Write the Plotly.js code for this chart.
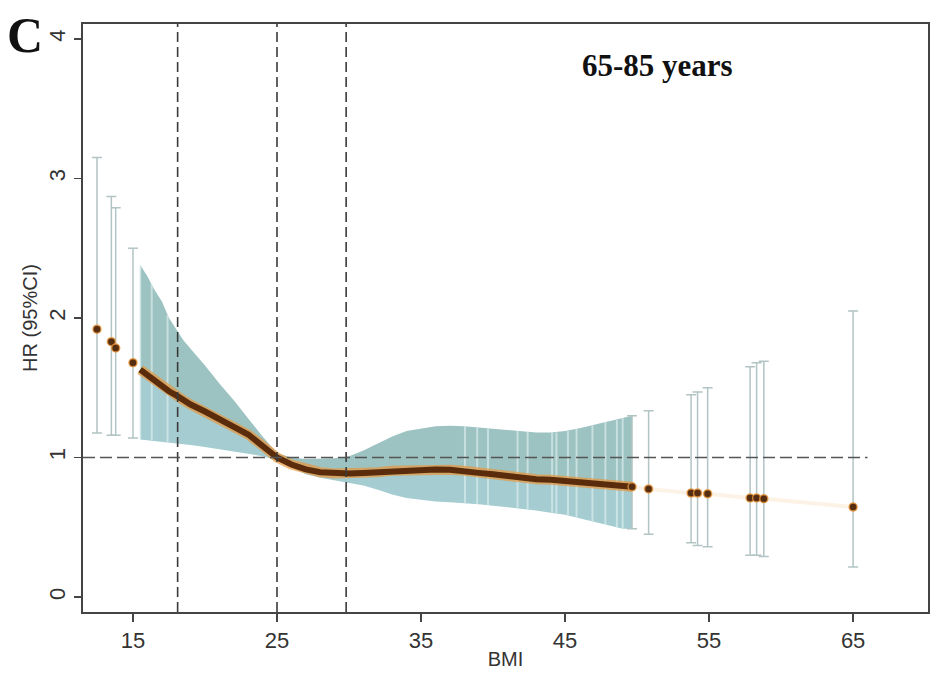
<!DOCTYPE html>
<html><head><meta charset="utf-8">
<script src="https://cdn.plot.ly/plotly-3.0.1.min.js"></script>
<style>html,body{margin:0;padding:0;background:#fff}#chart{width:941px;height:681px}</style>
</head><body><div id="chart"></div>
<script>
// Dense region: BMI, hazard ratio estimate and 95% CI envelope
const bandX   = [15.5, 16, 16.5, 17, 17.5, 18, 18.5, 19, 20, 21, 22, 23, 24, 25, 26, 27, 28, 29, 30, 31, 32, 33, 34, 35, 36, 37, 38, 39, 40, 41, 42, 43, 44, 45, 46, 47, 48, 49, 49.65];
const bandEst = [1.63, 1.59, 1.55, 1.51, 1.475, 1.445, 1.41, 1.38, 1.33, 1.27, 1.22, 1.165, 1.085, 1.0, 0.95, 0.915, 0.895, 0.885, 0.885, 0.89, 0.895, 0.905, 0.91, 0.915, 0.915, 0.912, 0.905, 0.89, 0.88, 0.865, 0.855, 0.845, 0.84, 0.83, 0.82, 0.81, 0.80, 0.795, 0.79];
const bandHi  = [2.38, 2.30, 2.20, 2.12, 2.00, 1.92, 1.84, 1.78, 1.66, 1.53, 1.41, 1.28, 1.15, 1.03, 1.0, 0.99, 0.99, 0.995, 1.01, 1.05, 1.10, 1.15, 1.19, 1.21, 1.225, 1.228, 1.225, 1.215, 1.205, 1.20, 1.19, 1.18, 1.18, 1.19, 1.21, 1.235, 1.26, 1.285, 1.30];
const bandLo  = [1.13, 1.125, 1.12, 1.115, 1.105, 1.10, 1.095, 1.09, 1.075, 1.06, 1.045, 1.03, 1.01, 0.98, 0.93, 0.88, 0.855, 0.835, 0.82, 0.80, 0.77, 0.735, 0.71, 0.695, 0.685, 0.68, 0.675, 0.665, 0.655, 0.645, 0.635, 0.62, 0.605, 0.59, 0.565, 0.54, 0.51, 0.49, 0.49];

// Individual sparse estimates with CI
const ptX   = [12.5, 13.5, 13.8, 15.0, 49.65, 50.8, 53.75, 54.2, 54.9, 57.85, 58.3, 58.8, 65.0];
const ptEst = [1.92, 1.83, 1.785, 1.68, 0.79, 0.775, 0.745, 0.745, 0.74, 0.71, 0.71, 0.705, 0.645];
const ptHi  = [3.15, 2.87, 2.79, 2.50, 1.30, 1.335, 1.45, 1.47, 1.50, 1.65, 1.68, 1.69, 2.05];
const ptLo  = [1.175, 1.16, 1.16, 1.14, 0.49, 0.45, 0.39, 0.37, 0.36, 0.30, 0.30, 0.29, 0.215];

// Lighter individual CI bars visible inside the dense band
const stripeX  = [15.5, 16.3, 17.4, 38.05, 38.9, 39.65, 41.7, 42.4, 44.1, 44.4, 45.2, 45.8, 46.9, 47.8, 48.6, 49.0];
const stripeEst= [1.63, 1.57, 1.49, 0.905, 0.89, 0.88, 0.86, 0.85, 0.84, 0.84, 0.83, 0.82, 0.81, 0.80, 0.795, 0.795];
const stripeHi = [2.38, 2.25, 2.02, 1.225, 1.215, 1.21, 1.195, 1.19, 1.18, 1.18, 1.19, 1.205, 1.23, 1.255, 1.27, 1.285];
const stripeLo = [1.13, 1.125, 1.11, 0.675, 0.665, 0.66, 0.64, 0.63, 0.605, 0.60, 0.585, 0.57, 0.545, 0.515, 0.50, 0.49];

const refX = [18.1, 25, 29.8];
const refY = 1;
const xTicks = [15, 25, 35, 45, 55, 65];
const yTicks = [0, 1, 2, 3, 4];
const panelLabel = 'C';
const panelTitle = '65-85 years';

const sans = '"Liberation Sans Narrow", "Liberation Sans", Arial, sans-serif';
const serif = '"Liberation Serif", "Times New Roman", serif';

const traces = [
  { x: bandX, y: bandHi, mode: 'lines', line: {width: 0, color: 'rgba(0,0,0,0)'}, hoverinfo: 'skip', showlegend: false },
  { x: bandX, y: bandEst, mode: 'lines', line: {width: 0, color: 'rgba(0,0,0,0)'}, fill: 'tonexty', fillcolor: '#9cc3c1', hoverinfo: 'skip', showlegend: false },
  { x: bandX, y: bandLo, mode: 'lines', line: {width: 0, color: 'rgba(0,0,0,0)'}, fill: 'tonexty', fillcolor: '#a4ccd1', hoverinfo: 'skip', showlegend: false },
  { x: stripeX, y: stripeEst, mode: 'markers', marker: {size: 0.1, color: 'rgba(0,0,0,0)'},
    error_y: {type: 'data', symmetric: false,
      array: stripeHi.map((h, i) => h - stripeEst[i]), arrayminus: stripeLo.map((l, i) => stripeEst[i] - l),
      color: 'rgba(228,242,242,0.6)', thickness: 2, width: 0}, hoverinfo: 'skip', showlegend: false },
  { x: ptX, y: ptEst, mode: 'markers', marker: {size: 0.1, color: 'rgba(0,0,0,0)'},
    error_y: {type: 'data', symmetric: false,
      array: ptHi.map((h, i) => h - ptEst[i]), arrayminus: ptLo.map((l, i) => ptEst[i] - l),
      color: '#b3c4c4', thickness: 1.5, width: 5}, hoverinfo: 'skip', showlegend: false },
  { x: ptX.slice(4), y: ptEst.slice(4), mode: 'lines', line: {color: 'rgba(245,190,130,0.2)', width: 4}, hoverinfo: 'skip', showlegend: false },
  { x: bandX, y: bandEst, mode: 'lines', line: {color: 'rgba(232,150,60,0.7)', width: 10}, hoverinfo: 'skip', showlegend: false },
  { x: bandX, y: bandEst, mode: 'lines', line: {color: '#5a2c0b', width: 6}, hoverinfo: 'skip', showlegend: false },
  { x: ptX, y: ptEst, mode: 'markers', marker: {size: 8, color: '#552d10', line: {color: 'rgba(232,150,60,0.8)', width: 1.5}}, showlegend: false }
];

const shapes = refX.map(v => ({ type: 'line', xref: 'x', yref: 'paper', x0: v, x1: v, y0: 0, y1: 1,
  line: {color: '#3a3a3a', width: 1.6, dash: '10px,5px'}, layer: 'above' }));
shapes.push({ type: 'line', xref: 'paper', yref: 'y', x0: 0, x1: (66 - 11.53) / (70.2 - 11.53), y0: refY, y1: refY,
  line: {color: '#555', width: 1.6, dash: '12px,5px'}, layer: 'above' });

const layout = {
  width: 941, height: 681,
  margin: {l: 83, r: 13, t: 24, b: 69},
  paper_bgcolor: '#fff', plot_bgcolor: '#fff',
  showlegend: false,
  font: {family: sans, color: '#333'},
  xaxis: {
    range: [11.53, 70.2], tickvals: xTicks, ticktext: xTicks.map(String),
    ticks: 'outside', ticklen: 8, tickwidth: 1.5, tickcolor: '#444',
    showline: true, linecolor: '#444', linewidth: 2, mirror: true,
    showgrid: false, zeroline: false,
    tickfont: {family: sans, size: 22, color: '#333'},
    title: {text: 'BMI', font: {family: sans, size: 20, color: '#333'}, standoff: 0}
  },
  yaxis: {
    range: [-0.107, 4.107], tickvals: yTicks, ticktext: yTicks.map(String), tickangle: -90,
    ticks: 'outside', ticklen: 7, tickwidth: 1.5, tickcolor: '#444',
    showline: true, linecolor: '#444', linewidth: 2, mirror: true,
    showgrid: false, zeroline: false,
    tickfont: {family: sans, size: 22, color: '#333'},
    title: {text: 'HR (95%CI)', font: {family: sans, size: 20, color: '#333'}, standoff: 2}
  },
  shapes: shapes,
  annotations: [
    { text: '<b>' + panelLabel + '</b>', xref: 'paper', yref: 'paper', x: (25 - 83) / 845, y: (612 - 35) / 588,
      xanchor: 'center', yanchor: 'middle', showarrow: false, font: {family: serif, size: 50, color: '#111'} },
    { text: '<b>' + panelTitle + '</b>', xref: 'paper', yref: 'paper', x: (657 - 83) / 845, y: (612 - 65) / 588,
      xanchor: 'center', yanchor: 'middle', showarrow: false, font: {family: serif, size: 31, color: '#111'} }
  ]
};

Plotly.newPlot('chart', traces, layout, {displayModeBar: false, staticPlot: true});
</script>
</body></html>
